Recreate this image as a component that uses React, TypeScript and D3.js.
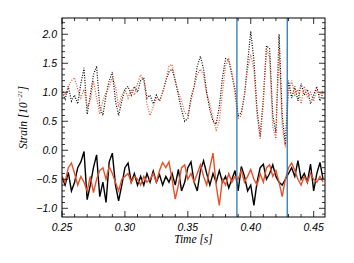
import React from 'react';
import * as d3 from 'd3';

// time grid (s), step 0.0025
const times = d3.range(0, 84).map(i => +(0.25 + i * 0.0025).toFixed(4));

// upper traces (offset +1), dotted
const blackDotted = [1.0, 0.88, 1.1, 0.85, 0.95, 0.8, 1.15, 1.42, 0.62, 0.95, 1.3, 1.45, 0.75, 0.6, 0.95, 1.2, 1.35, 0.85, 0.6, 0.85,
  1.05, 1.1, 0.95, 1.1, 1.0, 1.2, 1.25, 0.9, 0.95, 0.8, 0.95, 0.85, 1.0, 1.2, 1.35, 1.4, 1.2, 0.95, 0.7, 0.5,
  0.55, 0.9, 1.1, 1.45, 1.62, 1.4, 1.0, 0.7, 0.5, 0.45, 0.75, 1.25, 1.58, 1.55, 1.3, 1.05, 0.6, 0.65, 0.95, 1.5,
  2.05, 1.55, 0.7, 0.25, 0.9, 1.8, 1.75, 0.6, 0.3, 2.0, 0.6, 0.1, 1.2, 0.9, 1.1, 0.85, 1.15, 0.95, 1.05, 0.8,
  0.95, 1.1, 0.85, 1.0];
const redDotted = [1.05, 0.95, 1.1, 1.2, 1.25, 1.05, 0.9, 1.05, 0.75, 0.85, 1.2, 0.9, 0.62, 0.85, 1.0, 1.1, 1.25, 1.1, 0.75, 0.95,
  1.05, 0.9, 1.05, 0.95, 1.15, 1.3, 1.2, 0.8, 0.6, 0.75, 0.9, 0.85, 1.0, 1.2, 1.45, 1.48, 1.2, 1.0, 0.85, 0.65,
  0.6, 0.85, 1.1, 1.3, 1.4, 1.3, 0.95, 0.8, 0.55, 0.35, 0.5, 1.0, 1.45, 1.57, 1.35, 0.95, 0.55, 0.6, 0.95, 1.4,
  1.65, 1.4, 0.6, 0.2, 0.8, 1.75, 1.6, 0.4, 0.2, 1.75, 0.4, 0.05, 1.0, 1.2, 0.95, 1.05, 0.8, 1.1, 0.9, 1.0,
  0.85, 1.05, 0.95, 1.05];

// lower traces (offset -0.5), solid
const blackSolid = [-0.47, -0.6, -0.38, -0.7, -0.55, -0.3, -0.2, -0.02, -0.85, -0.6, -0.3, -0.08, -0.8, -0.55, -0.9, -0.2, -0.05, -0.6, -0.87, -0.6,
  -0.3, -0.22, -0.55, -0.4, -0.6, -0.45, -0.6, -0.4, -0.55, -0.36, -0.55, -0.42, -0.6, -0.45, -0.55, -0.4, -0.6, -0.33, -0.7, -0.55,
  -0.3, -0.2, -0.55, -0.7, -0.35, -0.18, -0.4, -0.6, -0.4, -0.55, -0.35, -0.55, -0.45, -0.65, -0.5, -0.35, -0.7, -0.28, -0.45, -0.7,
  -0.6, -0.95, -0.55, -0.3, -0.24, -0.5, -0.4, -0.25, -0.45, -0.55, -0.6, -0.5, -0.4, -0.3, -0.45, -0.18, -0.5, -0.4, -0.55, -0.24,
  -0.7, -0.4, -0.21, -0.5];
const redSolid = [-0.45, -0.55, -0.3, -0.22, -0.4, -0.6, -0.45, -0.55, -0.7, -0.45, -0.73, -0.5, -0.35, -0.3, -0.5, -0.28, -0.4, -0.55, -0.7, -0.5,
  -0.45, -0.4, -0.55, -0.45, -0.5, -0.6, -0.45, -0.55, -0.5, -0.4, -0.55, -0.35, -0.21, -0.3, -0.2, -0.5, -0.84, -0.6, -0.3, -0.25,
  -0.5, -0.4, -0.55, -0.4, -0.25, -0.45, -0.6, -0.3, -0.05, -0.6, -0.95, -0.5, -0.6, -0.4, -0.55, -0.45, -0.5, -0.35, -0.55, -0.45,
  -0.33, -0.5, -0.6, -0.4, -0.55, -0.3, -0.25, -0.45, -0.35, -0.55, -0.8, -0.5, -0.3, -0.22, -0.35, -0.5, -0.6, -0.45, -0.55, -0.4,
  -0.5, -0.55, -0.45, -0.55];

const markerTimes = [0.389, 0.429];
const xTickLabels = ['0.25', '0.30', '0.35', '0.40', '0.45'];
const yTickLabels = ['-1.0', '-0.5', '0.0', '0.5', '1.0', '1.5', '2.0'];

const W = 354, H = 263;
const m = { left: 62, right: 29, top: 18, bottom: 46 };
const RED = '#e8502a';
const BLUE = '#2a7bb5';

export default function App() {
  const x = d3.scaleLinear().domain([0.25, 0.459]).range([m.left, W - m.right]);
  const y = d3.scaleLinear().domain([-1.15, 2.28]).range([H - m.bottom, m.top]);
  const [x0, x1] = x.range();
  const [y0, y1] = y.range(); // y0 bottom, y1 top

  const line = (vals: number[]) =>
    d3.line<number>().x((_, i) => x(times[i])).y(v => y(v))(vals) || '';

  const xMinor = d3.range(25, 46).map(v => v / 100);
  const yMinor = d3.range(-11, 23).map(v => v / 10);
  const majX = xTickLabels.map(Number);
  const majY = yTickLabels.map(Number);
  const isMajX = (v: number) => majX.some(t => Math.abs(t - v) < 1e-6);
  const isMajY = (v: number) => majY.some(t => Math.abs(t - v) < 1e-6);

  const font = '"Liberation Sans", Arial, sans-serif';
  const serif = '"Liberation Serif", "Times New Roman", serif';

  return (
    <svg width={W} height={H} style={{ position: 'absolute', left: 0, top: 0, background: '#fff' }}>
      <defs>
        <clipPath id="plot">
          <rect x={x0} y={y1} width={x1 - x0} height={y0 - y1} />
        </clipPath>
      </defs>
      <g clipPath="url(#plot)" fill="none">
        <path d={line(blackDotted)} stroke="#000" strokeWidth={1.2} strokeDasharray="1,1.5" />
        <path d={line(redDotted)} stroke={RED} strokeWidth={1.2} strokeDasharray="1,1.5" />
        <path d={line(blackSolid)} stroke="#000" strokeWidth={1.4} />
        <path d={line(redSolid)} stroke={RED} strokeWidth={1.4} />
      </g>
      {markerTimes.map(t => (
        <line key={t} x1={x(t)} x2={x(t)} y1={y0} y2={y1} stroke={BLUE} strokeWidth={1.3} />
      ))}
      <rect x={x0} y={y1} width={x1 - x0} height={y0 - y1} fill="none" stroke="#000" strokeWidth={1} />
      {/* ticks on all four sides, pointing inward */}
      {xMinor.map(v => {
        const len = isMajX(v) ? 6 : 3;
        return (
          <g key={'xt' + v} stroke="#000" strokeWidth={0.8}>
            <line x1={x(v)} x2={x(v)} y1={y0} y2={y0 - len} />
            <line x1={x(v)} x2={x(v)} y1={y1} y2={y1 + len} />
          </g>
        );
      })}
      {yMinor.map(v => {
        const len = isMajY(v) ? 6 : 3;
        return (
          <g key={'yt' + v} stroke="#000" strokeWidth={0.8}>
            <line x1={x0} x2={x0 + len} y1={y(v)} y2={y(v)} />
            <line x1={x1} x2={x1 - len} y1={y(v)} y2={y(v)} />
          </g>
        );
      })}
      {xTickLabels.map(l => (
        <text key={l} x={x(+l)} y={y0 + 14} textAnchor="middle" fontFamily={font} fontStyle="italic" fontSize={10.5}>{l}</text>
      ))}
      {yTickLabels.map(l => (
        <text key={l} x={x0 - 5} y={y(+l) + 4} textAnchor="end" fontFamily={font} fontStyle="italic" fontSize={10.5}>
          {l.replace('-', '\u2212')}
        </text>
      ))}
      <text x={(x0 + x1) / 2} y={y0 + 26} textAnchor="middle" fontFamily={serif} fontStyle="italic" fontSize={11.5}>Time [s]</text>
      <text transform={`translate(27,${(y0 + y1) / 2}) rotate(-90)`} textAnchor="middle" fontFamily={serif} fontStyle="italic" fontSize={11.5}>
        Strain [10<tspan dy={-5} fontSize={7}>{'\u221221'}</tspan><tspan dy={5}>]</tspan>
      </text>
    </svg>
  );
}
